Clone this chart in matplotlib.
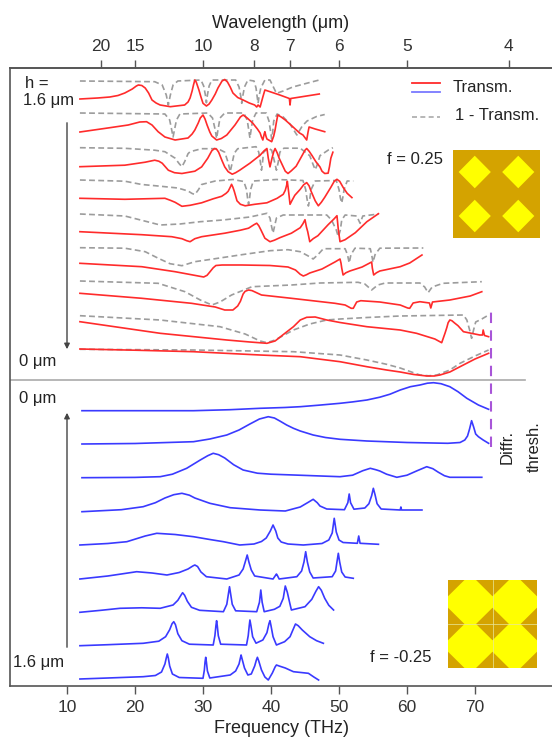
import numpy as np
import matplotlib
matplotlib.use('Agg')
import matplotlib.pyplot as plt
from matplotlib.patches import Polygon, Rectangle
from matplotlib.lines import Line2D

plt.rcParams['font.family'] = ['Liberation Sans', 'DejaVu Sans']

# ---------------- data (frequency in THz, signal in arbitrary units) ----------------
# f = 0.25 panel, h = 1.6 um (top) ... 0 um (bottom): Transm. (red) and 1 - Transm. (gray)
red1_f = [11.9, 14.5, 16.3, 17.5, 18.5, 19.6, 20.2, 20.5, 21.0, 21.5, 22.0, 22.5, 23.1, 23.7, 25.2, 27.3, 27.8, 28.1, 28.4, 28.6, 28.8, 29.0, 29.4, 29.7, 30.0, 30.5, 30.9, 31.3, 31.8, 32.2, 32.8, 33.2, 33.6, 34.0, 34.4, 35.1, 35.9, 36.8, 37.6, 37.9, 38.1, 38.4, 38.8, 39.1, 39.85, 41.3, 42.7, 42.8, 42.9, 44.3, 45.7, 47.1]
red1_v = [0, 1, 2, 3.5, 6, 10, 13, 14, 13.5, 11, 6, -1, -4, -6, -7.7, -6, -3, 1, 8, 14, 19, 17, 9, 2, -4.3, -7, -5, -1, 5, 11, 18, 19.5, 17, 12, 6, 1.5, -1, -4, -6, -8, -6, -8, 2, 9, 7.3, 4, 0.5, -6, 0.5, 2, 3.5, 5]
gray1_f = [11.9, 22.9, 24.0, 24.6, 24.9, 25.2, 25.6, 26.3, 29.7, 30.1, 30.35, 30.5, 30.65, 30.9, 31.3, 34.8, 35.3, 35.55, 35.7, 35.85, 36.1, 36.6, 37.5, 37.8, 37.95, 38.1, 38.25, 38.5, 39.1, 39.85, 40.8, 41.8, 43.2, 45.4, 47.1]
gray1_v = [0, -0.7, -4, -14, -24, -14, -4, 0, 1, -5, -14, -21.7, -14, -5, 1, 1, -6, -15, -22.3, -15, -6, 1, 0, -7, -15, -22.3, -15, -7, 1, 1, -12.3, -10, -6, -2, 1]

red2_f = [11.9, 16.0, 19.0, 20.7, 21.7, 22.5, 23.4, 24.4, 25.9, 27.8, 28.4, 28.8, 29.3, 29.6, 30.0, 30.3, 30.6, 31.0, 31.3, 32.0, 32.7, 33.5, 34.7, 35.5, 35.9, 36.5, 37.3, 38.0, 38.4, 38.6, 38.8, 39.0, 39.1, 39.25, 39.4, 40.1, 40.4, 40.6, 40.8, 41.0, 41.5, 42.1, 43.2, 44.2, 44.7, 45.25, 45.45, 45.6, 46.5, 47.9]
red2_v = [0, 4, 7, 10, 10.3, 7, 0.3, -5, -8, -6, -2, 2, 9, 14, 17, 13, 7, 0, -4, -8, -6.5, -3, 7, 15, 17, 14, 9, 3, -1, -5, -8, -2, 0.3, -4, -7, -9.7, -4, 2, 10, 17, 15, 12, 5.3, -1, -3, -8, 0, 5, 3, 0.3]
gray2_f = [11.9, 24.4, 25.1, 25.4, 25.6, 25.8, 26.1, 26.6, 30.7, 31.4, 31.8, 32.0, 32.2, 32.5, 33.2, 36.0, 36.5, 36.75, 36.9, 37.05, 37.3, 37.8, 39.3, 39.7, 39.95, 40.1, 40.25, 40.4, 40.9, 41.8, 42.8, 43.8, 44.6, 45.3, 46.7, 47.9]
gray2_v = [0, -1, -7, -17, -24, -17, -7, -1, 0, -5, -17, -25.5, -17, -5, 0, 0, -7, -18, -25, -18, -7, 0, 0, -8, -19, -26, -19, -8, -1, -4, -11, -22, -13, -8, -3.5, -1.5]

red3_f = [11.9, 18.5, 21.5, 22.9, 23.5, 24.0, 24.9, 25.8, 26.9, 28.8, 29.8, 30.7, 31.3, 31.7, 32.0, 32.3, 32.8, 33.2, 33.7, 34.3, 34.8, 35.4, 36.9, 38.4, 39.0, 39.4, 39.6, 39.85, 40.15, 40.4, 40.6, 40.9, 41.2, 41.8, 42.1, 42.5, 43.0, 43.7, 44.6, 45.0, 45.25, 45.6, 46.0, 46.6, 47.2, 47.5, 47.9, 48.4, 48.6, 48.8, 49.1]
red3_v = [0, 1.5, 4.5, 6.5, 5.5, 3.5, -3.5, -6, -6.8, -4.5, -0.2, 8.5, 16, 18.2, 17.5, 14.5, 6, -0.2, -5, -7.5, -6, -3.5, 3.5, 11.5, 16, 18.2, 8.5, -0.2, 8.5, 15, 18.2, 14, 8.5, -0.2, -4.5, -6.8, -4, 0.5, 11.5, 16.5, 18.2, 15.5, 11.5, 5, -0.2, -4.5, -6.8, -6.5, 0, 8.5, 14.5]
gray3_f = [11.9, 18.5, 22.9, 24.4, 25.9, 26.5, 26.9, 27.3, 27.8, 28.1, 29.8, 32.2, 33.2, 33.7, 34.0, 34.3, 34.6, 35.1, 37.8, 38.2, 38.45, 38.6, 38.75, 38.9, 39.6, 40.1, 40.55, 40.8, 41.05, 41.3, 41.9, 44.3, 45.7, 46.2, 46.5, 46.8, 47.2, 48.5, 49.1]
gray3_v = [0, -0.6, -2.5, -4, -10.5, -16, -19, -14, -6, -4, -1, -1, -4.5, -15, -24, -15, -5.5, -1, 1, -4.5, -15, -22.5, -15, -4.5, -0.5, -2.5, -15, -22.5, -15, -4.5, -0.5, -0.5, -8, -17, -22, -17, -8, -2, 0]

red4_f = [11.9, 18.5, 24.4, 25.2, 25.9, 26.9, 28.1, 29.8, 31.5, 32.75, 33.4, 33.7, 34.0, 34.2, 34.4, 34.6, 35.0, 35.5, 36.2, 37.6, 39.4, 40.9, 41.8, 42.1, 42.3, 42.4, 42.6, 42.8, 43.1, 43.5, 44.3, 44.8, 45.25, 45.6, 45.9, 46.5, 46.96, 47.4, 47.9, 48.8, 49.3, 49.7, 50.1, 50.6, 51.2, 51.9]
red4_v = [0, -1, 0, -2, -4, -8, -7, -4.5, -0.5, 2, 5, 7, 11, 14, 11, 7, -2.5, -6, -7.5, -6, -4.5, 0, 4, 8, 13, 17, 6, -6, -2, 3, 9, 13.5, 15.7, 12.5, 7, -2.5, -7.5, -4, 1, 11, 17, 19, 17, 11, 5, 0.7]
gray4_f = [11.9, 18.5, 21.0, 23.4, 26.3, 27.8, 28.4, 28.8, 29.3, 29.8, 31.8, 34.4, 36.0, 36.4, 36.55, 36.7, 36.85, 37.0, 37.4, 40.8, 44.7, 45.1, 45.3, 45.5, 45.7, 45.9, 46.5, 49.6, 50.0, 50.2, 50.4, 50.6, 50.75, 51.2, 52.1]
gray4_v = [0, -1.2, -4.5, -6, -8, -11, -13.5, -14.5, -10, -4.5, -1, 0.5, -1.5, -9.5, -18, -24.5, -18, -9.5, -1, 0.5, -0.5, -9.5, -19, -26, -19, -9.5, -1, -0.5, -9.5, -18, -23, -16, -9.5, -1, -1]

red5_f = [11.9, 21.0, 25.4, 26.9, 27.6, 28.1, 28.8, 29.8, 33.2, 35.5, 36.7, 37.5, 37.9, 38.2, 38.5, 39.1, 39.85, 40.5, 41.3, 43.0, 44.3, 44.7, 45.0, 45.2, 45.4, 45.7, 46.2, 46.9, 48.4, 49.3, 49.7, 49.8, 49.9, 50.15, 50.9, 52.4, 54.1, 55.8]
red5_v = [0, -3, -5, -7, -9, -10, -7, -5, -1.5, 1.5, 3.5, 7, 8.5, 6, 2, -6.5, -10, -8.5, -6, -1.5, 4, 8, 12, 5, 0, -10, -7, -4, 7, 13, 16, 9, 2, -10, -8, -1, 10, 18]
gray5_f = [11.9, 18.5, 21.4, 23.7, 26.6, 29.6, 32.9, 36.9, 39.4, 39.85, 40.1, 40.3, 40.5, 40.8, 41.8, 48.2, 48.9, 49.6, 49.9, 50.2, 50.4, 50.9, 52.6, 53.1, 53.5, 55.8]
gray5_v = [0, -2, -7, -11, -10, -7.7, -6, -3, 0.7, -4, -13, -19, -13, -4, -1, -1, -6, -16, -22.7, -16, -6, -1, -2, -9.3, -2, 0]

red6_f = [11.9, 21.0, 25.9, 29.3, 30.1, 30.6, 31.0, 31.5, 31.9, 32.8, 35.7, 39.85, 42.5, 43.6, 44.3, 44.75, 45.2, 45.7, 47.5, 49.4, 50.15, 50.3, 50.4, 50.6, 51.0, 51.6, 53.4, 54.8, 54.9, 55.1, 55.5, 56.0, 59.0, 60.4, 62.2]
red6_v = [0, -3.4, -8.4, -12.7, -13.7, -12, -8.7, -4.5, -2.2, -1.7, -1.7, -2.2, -3.7, -6.7, -11, -12.7, -11.5, -9.7, -5.7, 1.3, 4.3, 0, -4.7, -11.7, -9.5, -7.7, -3.7, 1.3, -4.7, -11.7, -9.5, -7.7, -3.4, 0.3, 8.3]
gray6_f = [11.9, 18.5, 21.5, 23.4, 25.15, 26.9, 28.8, 30.8, 35.7, 39.85, 42.5, 44.3, 45.4, 46.2, 46.9, 47.7, 50.9, 51.25, 51.5, 51.75, 52.35, 54.6, 54.8, 55.0, 55.3, 56.0, 62.4]
gray6_v = [0, -0.5, -4, -10.5, -16, -18, -14, -12, -7, -3, -2, -4, -8, -11.3, -7, -1, -1, -7, -15.3, -7, -0.5, -1, -7, -14.5, -7, -0.5, -0.3]

red7_f = [11.9, 21.0, 28.3, 31.8, 33.2, 34.4, 35.1, 35.5, 35.9, 36.2, 36.7, 37.2, 37.65, 38.6, 43.0, 49.4, 50.9, 51.8, 52.1, 52.6, 53.2, 56.0, 59.0, 60.1, 60.4, 60.9, 61.9, 63.3, 63.5, 63.75, 66.3, 69.3, 71.0]
red7_v = [0, -5, -10, -13.7, -16.7, -16.7, -12.7, -8, -0.7, 2, 3.3, 2.7, 1.3, -1.7, -5, -10, -11.7, -15, -15, -8.7, -7.4, -8.7, -11.7, -14.7, -15, -9.7, -8.4, -9.7, -14.7, -8.7, -6.7, -2.7, 1.6]
gray7_f = [11.9, 23.4, 27.35, 29.6, 31.3, 32.5, 34.2, 37.2, 43.0, 47.2, 52.8, 53.8, 54.8, 55.7, 56.8, 61.9, 62.6, 63.1, 63.7, 65.3, 71.0]
gray7_v = [0, -2.3, -10.7, -19, -24, -21, -14, -5.7, -4, -2, -1.3, -3, -9, -4, -2, -2, -6, -11.7, -6, -2.3, -0.7]

red8_f = [11.9, 23.7, 33.5, 36.9, 39.4, 40.6, 42.1, 43.3, 44.3, 45.25, 46.5, 48.2, 50.15, 54.1, 59.0, 61.4, 64.1, 65.1, 65.6, 65.85, 66.05, 66.3, 66.6, 67.0, 67.5, 68.3, 70.7, 71.1, 71.2, 71.4, 72.0]
red8_v = [0, -11.6, -18.3, -20.3, -21.6, -19.3, -11.3, -5, 1.7, 4.4, 4.7, 1.7, -0.8, -5, -8.3, -11.6, -17.3, -21, -11.3, -6, -1, 1.7, 1, -1.3, -4, -10, -13.3, -13.3, -8.3, -13.8, -15]
gray8_f = [11.9, 23.7, 32.5, 36.2, 38.4, 39.4, 40.6, 43.3, 45.7, 48.2, 50.15, 54.1, 59.0, 68.3, 68.8, 69.2, 69.5, 69.8, 70.1, 71.0, 72.0]
gray8_v = [0, -4.3, -11, -18.3, -25.3, -27, -24.3, -14.3, -8.3, -4.3, -3.3, -1.8, -0.3, 0.7, -4.3, -14, -22.6, -14, -6.3, -3.3, 0.7]

red9_f = [11.9, 20.0, 28.6, 38.4, 44.3, 50.15, 54.1, 57.0, 59.0, 61.0, 62.9, 64.0, 64.85, 66.3, 67.8, 70.0, 72.0]
red9_v = [0, -1.2, -2.7, -6, -7.7, -12.7, -17.7, -21, -23, -25.5, -27, -27, -26, -23, -17.7, -10, -4.3]
gray9_f = [11.9, 28.6, 43.3, 50.15, 54.1, 57.0, 59.0, 61.9, 63.2, 64.4, 66.3, 67.8, 70.0, 72.0]
gray9_v = [0, -0.7, -2.4, -5.7, -10.7, -15, -18.7, -25.7, -26.5, -25.7, -20.7, -14, -6.7, -0.7]

# f = -0.25 panel, h = 0 um (top) ... 1.6 um (bottom): Transm. (blue)
blue1_f = [12.2, 20.0, 28.6, 34.0, 38.4, 42.0, 44.3, 47.0, 50.15, 52.0, 54.1, 56.0, 57.5, 59.0, 60.5, 61.9, 63.0, 63.9, 65.0, 66.3, 67.5, 68.8, 70.5, 72.0]
blue1_v = [0, 0, 0, 1, 2.4, 3.2, 4, 5.5, 7.4, 8.8, 10.7, 13.5, 16.5, 20.7, 24, 25.7, 27.5, 28, 27, 24, 19, 12.4, 5.7, 1.4]
blue2_f = [12.2, 20.0, 28.6, 31.0, 33.5, 35.3, 36.9, 38.3, 39.6, 40.5, 41.3, 42.3, 43.3, 44.3, 46.2, 48.0, 50.15, 54.1, 60.0, 66.0, 67.8, 68.5, 68.9, 69.2, 69.5, 69.8, 70.1, 70.5, 71.2, 72.0]
blue2_v = [0, 0.5, 2.3, 5, 9, 14, 20, 25, 27.3, 26, 23, 19, 15.7, 13, 9, 6.5, 4.7, 3, 1.5, 0.7, 1.5, 4, 8, 15, 23.3, 17, 10, 7.3, 4, 0.7]
blue3_f = [12.2, 20.0, 23.7, 25.5, 27.6, 29.6, 30.7, 31.5, 32.3, 33.2, 34.5, 35.9, 38.0, 40.0, 43.3, 50.15, 52.0, 53.5, 54.6, 55.4, 56.0, 57.0, 58.5, 60.0, 61.5, 62.9, 63.8, 64.6, 65.5, 66.3, 71.0]
blue3_v = [0, 0.3, 1, 3.5, 9.4, 17.7, 22, 24.4, 23, 19.7, 13, 7.7, 4.5, 3.5, 2.7, 1, 2.5, 7, 9.4, 8, 6.7, 3.5, 0.4, 2.5, 7, 11, 9, 5.5, 2, 0.4, 0.4]
blue4_f = [12.2, 18.0, 21.2, 23.0, 24.4, 25.7, 26.9, 28.0, 28.8, 31.0, 34.0, 38.4, 42.1, 44.3, 45.5, 46.2, 46.8, 47.2, 48.2, 50.8, 51.3, 51.5, 51.7, 52.2, 53.8, 54.4, 54.8, 55.05, 55.3, 55.6, 56.2, 59.0, 59.1, 59.2, 62.2]
blue4_v = [0, 2, 5, 9, 13.7, 17, 18.4, 16.5, 13.7, 8.4, 4, 1.7, 0.7, 4.7, 9.5, 12.4, 9, 5.7, 2.7, 2, 9, 17.7, 9, 2.5, 3.7, 8, 16, 23.4, 17, 8, 2.7, 1.7, 4.7, 1.7, 1.7]
blue5_f = [11.9, 16.0, 18.8, 21.5, 23.2, 25.9, 28.6, 31.0, 33.0, 35.4, 37.5, 38.6, 39.3, 39.9, 40.3, 40.7, 41.0, 41.5, 42.5, 44.75, 47.5, 48.5, 49.0, 49.3, 49.6, 50.0, 50.6, 52.7, 52.9, 53.1, 55.8]
blue5_v = [0, 1.5, 3.3, 9, 11.7, 10.5, 8.3, 5.5, 3.3, 0, 1, 3.5, 7, 14, 20, 14, 7, 3, 1, 0, 1.5, 5, 12, 26.7, 13, 5, 2.5, 1.7, 9, 1.7, 0.7]
blue6_f = [11.9, 16.0, 20.25, 22.5, 24.7, 26.5, 27.8, 28.5, 28.8, 29.2, 29.7, 30.5, 33.5, 35.3, 35.9, 36.25, 36.5, 36.75, 37.1, 37.6, 40.3, 40.7, 40.8, 40.9, 41.2, 43.8, 44.5, 44.85, 45.1, 45.35, 45.7, 46.2, 49.0, 49.5, 49.7, 49.9, 50.1, 50.4, 50.9, 52.1]
blue6_v = [0, 3, 7.3, 6, 4, 6.5, 10, 13, 14, 12.5, 7, 2.3, 0, 4, 10, 18, 24, 17, 9, 3, 0, 4, 5, 4, 0, 2.3, 8, 17, 27.3, 17, 7, 1, 2.3, 8, 17, 25.7, 17, 7, 2, 0.7]
blue7_f = [11.9, 15.0, 17.8, 21.0, 23.7, 25.6, 26.3, 26.75, 27.0, 27.3, 27.7, 28.3, 29.5, 33.0, 33.5, 33.75, 33.9, 34.05, 34.3, 34.8, 37.9, 38.3, 38.5, 38.7, 39.0, 40.5, 41.3, 41.8, 42.1, 42.4, 42.8, 43.0, 45.0, 46.0, 46.6, 47.0, 47.4, 47.9, 48.5, 49.2]
blue7_v = [0, 2, 4, 4.5, 4, 7.3, 12, 17, 19.6, 17, 11, 5, 2, 0.6, 8, 19, 25.6, 19, 8, 1.5, 0.6, 10, 22.3, 10, 0.6, 3, 6, 14, 26.3, 20, 8, 2.3, 5.6, 13, 21, 25.6, 22, 14, 7, 2.3]
blue8_f = [11.9, 16.0, 21.2, 23.5, 24.5, 25.1, 25.45, 25.7, 25.95, 26.3, 26.9, 28.0, 31.5, 31.75, 31.9, 32.0, 32.1, 32.25, 32.6, 36.4, 36.65, 36.8, 36.9, 37.05, 37.3, 37.8, 38.8, 39.4, 39.7, 39.85, 40.0, 40.3, 40.8, 42.0, 42.8, 43.3, 43.6, 44.0, 44.6, 45.7, 46.7, 47.7]
blue8_v = [0, 1, 2.4, 4.5, 9, 16, 22, 24, 21, 12, 5, 1.5, 0.7, 10, 20, 25, 20, 10, 1.5, 0.7, 10, 20, 25.7, 20, 9, 2.5, 5.7, 13, 22, 25, 20, 9, 0.7, 4, 9, 17, 21.7, 20, 15.7, 9, 5, 2.4]
blue9_f = [11.9, 16.0, 21.2, 23.0, 23.9, 24.4, 24.6, 24.75, 24.9, 25.1, 25.5, 26.5, 30.0, 30.2, 30.3, 30.4, 30.5, 30.65, 31.0, 34.0, 34.8, 35.3, 35.5, 35.6, 35.75, 36.1, 36.6, 37.1, 37.6, 37.85, 38.0, 38.2, 38.6, 39.1, 39.6, 40.2, 40.6, 40.8, 41.2, 42.1, 43.3, 45.5, 46.3, 47.0]
blue9_v = [0, 1, 2.3, 3.5, 7, 15, 21, 25, 21, 13, 5, 1.5, 0.7, 9, 17, 21.7, 17, 8, 1, 4, 8, 15, 21, 24, 20, 11, 4, 5, 13, 19, 21.7, 18, 9, 2, -1, 6, 12, 14, 13, 11, 7.3, 5.7, 2, -1]

red_curves = [(red1_f, red1_v), (red2_f, red2_v), (red3_f, red3_v), (red4_f, red4_v), (red5_f, red5_v),
              (red6_f, red6_v), (red7_f, red7_v), (red8_f, red8_v), (red9_f, red9_v)]
gray_curves = [(gray1_f, gray1_v), (gray2_f, gray2_v), (gray3_f, gray3_v), (gray4_f, gray4_v), (gray5_f, gray5_v),
               (gray6_f, gray6_v), (gray7_f, gray7_v), (gray8_f, gray8_v), (gray9_f, gray9_v)]
blue_curves = [(blue1_f, blue1_v), (blue2_f, blue2_v), (blue3_f, blue3_v), (blue4_f, blue4_v), (blue5_f, blue5_v),
               (blue6_f, blue6_v), (blue7_f, blue7_v), (blue8_f, blue8_v), (blue9_f, blue9_v)]

# vertical stacking offsets (arbitrary units)
red_offsets = [587, 554, 519.3, 487.7, 454.3, 422.7, 392.7, 364.3, 337]
gray_offsets = [605, 573, 538.3, 506, 472, 438.3, 405, 370.3, 336.7]
blue_offsets = [275.3, 242, 208.3, 174.3, 141, 107, 73.7, 40.3, 7]

freq_ticks = [10, 20, 30, 40, 50, 60, 70]
wl_ticks = [20, 15, 10, 8, 7, 6, 5, 4]
diffr_thresh = 72.35
C_UM_THZ = 299.792458

# ---------------- figure ----------------
W, H = 552, 752
fig = plt.figure(figsize=(W / 100, H / 100), dpi=100)


def fx(px):
    return px / W


def fy(py):
    return 1 - py / H


ax = fig.add_axes([fx(10), fy(686), 1 - fx(10), (686 - 68) / H])
ax.set_xlim(10 + (10 - 67) / 6.8, 10 + (552 - 67) / 6.8)
ax.set_ylim(0, 618)

red_c = '#ff2b2b'
gray_c = '#9c9c9c'
blue_c = '#3a3aff'
axis_c = '#555555'

for (f, v), off in zip(gray_curves, gray_offsets):
    ax.plot(f, np.array(v) + off, color=gray_c, lw=1.2, dashes=(3.5, 2))
for (f, v), off in zip(red_curves, red_offsets):
    ax.plot(f, np.array(v) + off, color=red_c, lw=1.2)
for (f, v), off in zip(blue_curves, blue_offsets):
    ax.plot(f, np.array(v) + off, color=blue_c, lw=1.2)

# separator and diffraction threshold
ax.axhline(306, xmin=0, xmax=(525 - 10) / 542, color='#aaaaaa', lw=1.2)
ax.plot([diffr_thresh, diffr_thresh], [239, 378], color='#a855d8', lw=1.5, dashes=(5, 3.5))

# arrows
ax.annotate('', xy=(10, 334), xytext=(10, 566),
            arrowprops=dict(arrowstyle='-|>', color='#444444', lw=1.0, mutation_scale=8))
ax.annotate('', xy=(10, 276), xytext=(10, 36),
            arrowprops=dict(arrowstyle='-|>', color='#444444', lw=1.0, mutation_scale=8))

ax.set_xticks(freq_ticks)
ax.set_yticks([])
ax.tick_params(axis='x', direction='out', length=6, width=1.0, colors=axis_c, labelsize=12.5,
               labelcolor='#333333', pad=4)
for s in ['left', 'bottom', 'top']:
    ax.spines[s].set_color(axis_c)
    ax.spines[s].set_linewidth(1.2)
ax.spines['right'].set_visible(False)
ax.set_xlabel('Frequency (THz)', fontsize=13, color='#222222', labelpad=4)


def f2wl(x):
    x = np.asarray(x, dtype=float)
    return C_UM_THZ / np.where(np.abs(x) < 1e-6, 1e-6, x)


secax = ax.secondary_xaxis('top', functions=(f2wl, f2wl))
secax.set_xticks(wl_ticks)
secax.set_xticklabels([str(t) for t in wl_ticks])
secax.tick_params(direction='out', length=6, width=1.0, colors=axis_c, labelsize=12.5,
                  labelcolor='#333333', pad=4)
secax.spines['top'].set_color(axis_c)
secax.spines['top'].set_linewidth(1.2)
secax.set_xlabel('Wavelength (μm)', fontsize=13, color='#222222', labelpad=8)

# left labels
txt = dict(fontsize=12, color='#222222')
fig.text(fx(37), fy(84), 'h =', ha='center', va='center', **txt)
fig.text(fx(49), fy(101), '1.6 μm', ha='center', va='center', **txt)
fig.text(fx(38), fy(361), '0 μm', ha='center', va='center', **txt)
fig.text(fx(38), fy(398), '0 μm', ha='center', va='center', **txt)
fig.text(fx(39), fy(662), '1.6 μm', ha='center', va='center', **txt)

# Diffr. thresh.
fig.text(fx(507), fy(447), 'Diffr.', rotation=90, ha='center', va='center', **txt)
fig.text(fx(534), fy(447), 'thresh.', rotation=90, ha='center', va='center', **txt)

# legend
fig.add_artist(Line2D([fx(412), fx(440)], [fy(82.5), fy(82.5)], color=red_c, lw=1.3))
fig.add_artist(Line2D([fx(412), fx(440)], [fy(91.5), fy(91.5)], color='#7a7aff', lw=1.3))
fig.text(fx(453), fy(87), 'Transm.', ha='left', va='center', **txt)
fig.add_artist(Line2D([fx(412), fx(440)], [fy(117), fy(117)], color='#aaaaaa', lw=1.2, dashes=(3, 2)))
fig.text(fx(455), fy(115), '1 - Transm.', ha='left', va='center', **txt)

fig.text(fx(443), fy(160), 'f = 0.25', ha='right', va='center', **txt)
fig.text(fx(432), fy(658), 'f = -0.25', ha='right', va='center', **txt)

gold = '#d4a300'
yellow = '#ffff00'
d = 0.37

# top inset (f = 0.25): yellow squares (diamonds) on gold
ins1 = fig.add_axes([fx(453), fy(238), 87 / W, 88 / H])
ins1.set_xlim(0, 2)
ins1.set_ylim(0, 2)
ins1.add_patch(Rectangle((0, 0), 2, 2, color=gold))
for cx in (0.5, 1.5):
    for cy in (0.5, 1.5):
        ins1.add_patch(Polygon([(cx - d, cy), (cx, cy + d), (cx + d, cy), (cx, cy - d)], color=yellow, lw=0))
ins1.axis('off')

# bottom inset (f = -0.25): complementary pattern
ins2 = fig.add_axes([fx(448), fy(668), 89 / W, 88 / H])
ins2.set_xlim(0, 2)
ins2.set_ylim(0, 2)
ins2.add_patch(Rectangle((0, 0), 2, 2, color=yellow))
for cx in (0, 1, 2):
    for cy in (0, 1, 2):
        ins2.add_patch(Polygon([(cx - d, cy), (cx, cy + d), (cx + d, cy), (cx, cy - d)], color=gold, lw=0))
ins2.plot([1, 1], [0, 2], color='#e8e8a0', lw=0.5)
ins2.plot([0, 2], [1, 1], color='#e8e8a0', lw=0.5)
ins2.axis('off')

fig.savefig('out.png', dpi=100)
